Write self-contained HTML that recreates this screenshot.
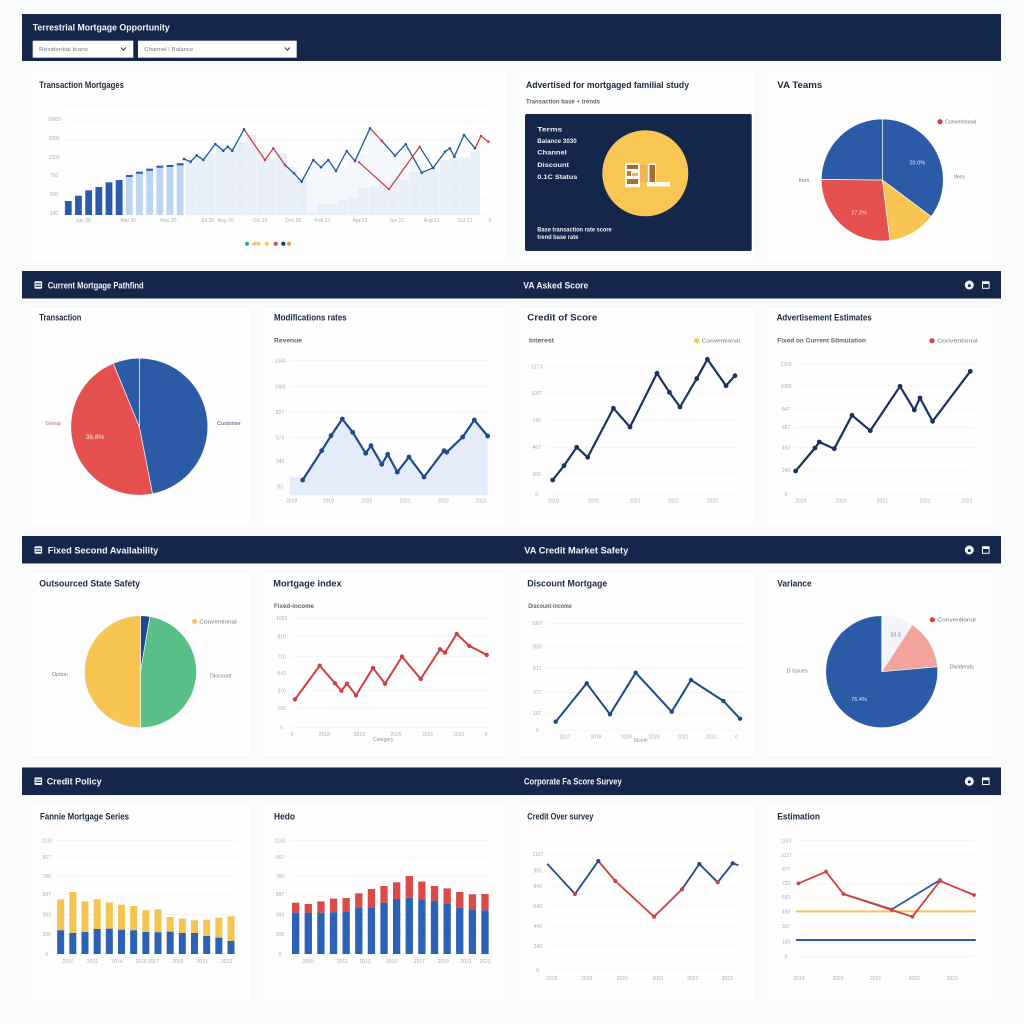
<!DOCTYPE html>
<html lang="en">
<head>
<meta charset="utf-8">
<title>Terrestrial Mortgage Opportunity</title>
<style>
html,body{margin:0;padding:0;background:#f9fafa;width:1024px;height:1024px;overflow:hidden}
svg{display:block;font-family:"Liberation Sans",sans-serif}
.band{fill:#14274a}
.card{fill:#fefefe;stroke:#f5f6f6;stroke-width:1}
.t{font-weight:700;font-size:9px;fill:#1b2942}
.h{font-weight:700;font-size:9.5px;fill:#f4f6fa}
.s{font-size:6px;fill:#5d6470;font-weight:700}
.m{font-size:5.5px;fill:#767c86}
.w{font-size:6.5px;fill:#eef1f6;font-weight:700}
</style>
</head>
<body>
<svg id="page" xmlns="http://www.w3.org/2000/svg" width="1024" height="1024" viewBox="0 0 1024 1024">
  <rect width="1024" height="1024" fill="#f9fafa"/>

  <rect class="band" x="22" y="14" width="979" height="47"/>
  <text class="h" x="32.7" y="30.5" textLength="137" lengthAdjust="spacingAndGlyphs">Terrestrial Mortgage Opportunity</text>
  <g>
    <rect x="32.7" y="40.7" width="100.6" height="17" fill="#fff"/>
    <text class="m" x="39" y="51" textLength="49" lengthAdjust="spacingAndGlyphs">Residential loans</text>
    <path d="M121 47.5l2.4 2.8 2.4-2.8" fill="none" stroke="#333c4c" stroke-width="1"/>
  </g>
  <g>
    <rect x="138" y="40.7" width="158.7" height="17" fill="#fff"/>
    <text class="m" x="144.3" y="51" textLength="49" lengthAdjust="spacingAndGlyphs">Channel / Balance</text>
    <path d="M285 47.5l2.4 2.8 2.4-2.8" fill="none" stroke="#333c4c" stroke-width="1"/>
  </g>

  <rect class="band" x="22" y="271" width="979" height="27.5"/>
  <rect class="band" x="22" y="536" width="979" height="27.5"/>
  <rect class="band" x="22" y="767.5" width="979" height="27.5"/>

  <text class="h" x="47.7" y="288.3" textLength="96" lengthAdjust="spacingAndGlyphs">Current Mortgage Pathfind</text>
  <text class="h" x="523.3" y="288.3" textLength="65" lengthAdjust="spacingAndGlyphs">VA Asked Score</text>
  <text class="h" x="47.7" y="553.3" textLength="110.6" lengthAdjust="spacingAndGlyphs">Fixed Second Availability</text>
  <text class="h" x="524.3" y="553.3" textLength="104" lengthAdjust="spacingAndGlyphs">VA Credit Market Safety</text>
  <text class="h" x="46.7" y="784.7" textLength="55" lengthAdjust="spacingAndGlyphs">Credit Policy</text>
  <text class="h" x="524" y="784.7" textLength="97.7" lengthAdjust="spacingAndGlyphs">Corporate Fa Score Survey</text>

  <g><rect x="34.5" y="281.2" width="7.6" height="7.6" rx="1" fill="#eef1f6"/><path d="M35.5 283.8h5.6M35.5 286.3h5.6" stroke="#14274a" stroke-width="1"/></g>
  <g><rect x="34.5" y="546.2" width="7.6" height="7.6" rx="1" fill="#eef1f6"/><path d="M35.5 548.8h5.6M35.5 551.3h5.6" stroke="#14274a" stroke-width="1"/></g>
  <g><rect x="34.5" y="777.4" width="7.6" height="7.6" rx="1" fill="#eef1f6"/><path d="M35.5 780h5.6M35.5 782.5h5.6" stroke="#14274a" stroke-width="1"/></g>

  <g><circle cx="969.3" cy="285" r="4.5" fill="#f4f6fa"/><circle cx="969.3" cy="285.6" r="1.5" fill="#14274a"/></g>
  <g><rect x="982" y="281.2" width="7.6" height="7.6" fill="#f4f6fa"/><rect x="983" y="284" width="5.6" height="3.8" fill="#14274a"/></g>
  <g><circle cx="969.3" cy="550" r="4.5" fill="#f4f6fa"/><circle cx="969.3" cy="550.6" r="1.5" fill="#14274a"/></g>
  <g><rect x="982" y="546.2" width="7.6" height="7.6" fill="#f4f6fa"/><rect x="983" y="549" width="5.6" height="3.8" fill="#14274a"/></g>
  <g><circle cx="969.3" cy="781.3" r="4.5" fill="#f4f6fa"/><circle cx="969.3" cy="781.9" r="1.5" fill="#14274a"/></g>
  <g><rect x="982" y="777.4" width="7.6" height="7.6" fill="#f4f6fa"/><rect x="983" y="780.2" width="5.6" height="3.8" fill="#14274a"/></g>

  <rect class="card" x="30" y="71.7" width="476.7" height="190"/>
  <rect class="card" x="518.3" y="71.7" width="236.7" height="190"/>
  <rect class="card" x="766.7" y="71.7" width="226.6" height="190"/>
  <rect class="card" x="30" y="306.7" width="221.7" height="218.3"/>
  <rect class="card" x="262.7" y="306.7" width="243.3" height="218.3"/>
  <rect class="card" x="518.3" y="306.7" width="236.7" height="218.3"/>
  <rect class="card" x="766.7" y="306.7" width="226.6" height="218.3"/>
  <rect class="card" x="30" y="572.7" width="221.7" height="184.6"/>
  <rect class="card" x="262.7" y="572.7" width="243.3" height="184.6"/>
  <rect class="card" x="518.3" y="572.7" width="236.7" height="184.6"/>
  <rect class="card" x="766.7" y="572.7" width="226.6" height="184.6"/>
  <rect class="card" x="30" y="804" width="221.7" height="196.7"/>
  <rect class="card" x="262.7" y="804" width="243.3" height="196.7"/>
  <rect class="card" x="518.3" y="804" width="236.7" height="196.7"/>
  <rect class="card" x="766.7" y="804" width="226.6" height="196.7"/>

  <text class="t" x="39.3" y="88" textLength="84.7" lengthAdjust="spacingAndGlyphs">Transaction Mortgages</text>
  <text class="t" x="526" y="88" textLength="163" lengthAdjust="spacingAndGlyphs">Advertised for mortgaged familial study</text>
  <text class="s" x="526" y="103.7" textLength="74" lengthAdjust="spacingAndGlyphs">Transaction base + trends</text>
  <text class="t" x="777.3" y="88" textLength="45" lengthAdjust="spacingAndGlyphs">VA Teams</text>

  <text class="t" x="39.3" y="320.7" textLength="42" lengthAdjust="spacingAndGlyphs">Transaction</text>
  <text class="t" x="274" y="320.7" textLength="72.7" lengthAdjust="spacingAndGlyphs">Modifications rates</text>
  <text class="t" x="527.3" y="320.7" textLength="70" lengthAdjust="spacingAndGlyphs">Credit of Score</text>
  <text class="t" x="776.7" y="320.7" textLength="95" lengthAdjust="spacingAndGlyphs">Advertisement Estimates</text>
  <text class="s" x="274" y="342.7" textLength="28" lengthAdjust="spacingAndGlyphs">Revenue</text>
  <text class="s" x="529" y="342.7" textLength="25" lengthAdjust="spacingAndGlyphs">Interest</text>
  <text class="s" x="777.3" y="342.7" textLength="88.7" lengthAdjust="spacingAndGlyphs">Fixed on Current Stimulation</text>

  <text class="t" x="39.3" y="586.3" textLength="100.7" lengthAdjust="spacingAndGlyphs">Outsourced State Safety</text>
  <text class="t" x="273.3" y="586.3" textLength="68.4" lengthAdjust="spacingAndGlyphs">Mortgage index</text>
  <text class="t" x="527.3" y="586.3" textLength="80" lengthAdjust="spacingAndGlyphs">Discount Mortgage</text>
  <text class="t" x="777.3" y="586.3" textLength="34.4" lengthAdjust="spacingAndGlyphs">Variance</text>
  <text class="s" x="274" y="608" textLength="40" lengthAdjust="spacingAndGlyphs">Fixed-income</text>
  <text class="s" x="528.3" y="608" textLength="43.4" lengthAdjust="spacingAndGlyphs">Discount-income</text>

  <text class="t" x="40" y="819.7" textLength="89" lengthAdjust="spacingAndGlyphs">Fannie Mortgage Series</text>
  <text class="t" x="274" y="819.7" textLength="21" lengthAdjust="spacingAndGlyphs">Hedo</text>
  <text class="t" x="527.3" y="819.7" textLength="66" lengthAdjust="spacingAndGlyphs">Credit Over survey</text>
  <text class="t" x="777.3" y="819.7" textLength="42.7" lengthAdjust="spacingAndGlyphs">Estimation</text>

  <rect x="525" y="114" width="226.7" height="137" rx="2" fill="#14274a"/>
  <text class="w" x="537.3" y="131.6" textLength="25" lengthAdjust="spacingAndGlyphs">Terms</text>
  <text class="w" x="537.3" y="143" textLength="39.4" lengthAdjust="spacingAndGlyphs">Balance 3030</text>
  <text class="w" x="537.3" y="154.6" textLength="29.4" lengthAdjust="spacingAndGlyphs">Channel</text>
  <text class="w" x="537.3" y="167" textLength="31.7" lengthAdjust="spacingAndGlyphs">Discount</text>
  <text class="w" x="537.3" y="179" textLength="40" lengthAdjust="spacingAndGlyphs">0.1C Status</text>
  <text class="w" x="537.3" y="231.6" textLength="74.4" lengthAdjust="spacingAndGlyphs">Base transaction rate score</text>
  <text class="w" x="537.3" y="239.2" textLength="41" lengthAdjust="spacingAndGlyphs">trend base rate</text>
  <circle cx="645.3" cy="173.3" r="43" fill="#f9c653"/>
  <g>
    <rect x="625" y="163.3" width="15" height="24" fill="#fdfbf4"/>
    <rect x="627" y="165" width="11" height="4" fill="#a8682c"/>
    <rect x="627" y="171" width="4" height="5" fill="#b97a3a"/>
    <rect x="632" y="173" width="6" height="3" fill="#e0b36a"/>
    <rect x="627" y="179" width="11" height="5" fill="#ab6f34"/>
    <rect x="640" y="165" width="7" height="17" fill="#efb255"/>
    <rect x="648" y="163.5" width="8" height="20" fill="#fdfbf4"/>
    <rect x="649.5" y="165" width="5.5" height="18" fill="#b0692e"/>
    <rect x="647" y="182" width="23" height="4.5" fill="#fdfbf4"/>
  </g>

  <g id="chart-layer"></g>
</svg>

<script>
/* ---------- chart data ---------- */
const trendBars=[140,193,247,280,327,350,400,433,463,493,500,517,550,590,620,700,680,730,800,630,570,620,480,380,30,110,110,150,170,270,280,330,350,350,430,450,450,550,570,570,630];
const trendBarsUpper=[0,0,0,0,0,0,0,0,0,0,0,0,0,0,0,0,0,0,0,0,0,0,0,0,450,390,420,330,410,350,570,420,270,320,150,0,0,0,0,0,0];
const trendDays=[119,125.7,131.7,138.3,150.3,158.3,162.7,167.3,179,200,208.3,220,229,236.7,248.3,256,263.3,271,281.7,290,305,316.7,330,340.7,356.7,368.3,380,385,389.3,399,410,416,423.3];
const trendValues=[560,533,597,550,710,643,683,643,857,550,667,500,417,333,550,477,550,440,640,540,867,743,593,707,423,473,633,667,583,800,667,790,733];
const trendFlags=[0,0,0,0,0,0,0,0,0,1,1,1,0,0,0,0,0,0,0,0,0,1,0,0,0,0,0,0,0,0,0,1,1];
const trendAltDays=[294,324,354.7,368.3];
const trendAltValues=[527,257,683,467];
const trendAltFlags=[1,1,1,0];
const trendGrid=[1100,930,750,580,390,170,0];
const trendTicks=[960,770,580,400,210,20];
const trendTickLabels=['10000','2000','1500','750','500','100'];
const trendXTicks=[18.3,63.3,103.3,142.3,160.7,195,228.3,257.7,295,331.7,366.7,400,425];
const trendXLabels=['Jan 20','Mar 20','May 20','Jul 20','Aug 20','Oct 20','Dec 20','Feb 21','Apr 21','Jun 21','Aug 21','Oct 21','0'];

const vaShare=[35.2,12.8,27.2,24.8];
const termsShare=[46.9,46.9,6.2];
const statusShare=[2.7,47.3,50];
const varianceShare=[9.2,14.4,76.4];

const areaDays=[12.7,31.7,41,52.3,62.7,75.7,81,91.7,97.7,107.3,119,134,154,156.7,172.7,184.3,197.7];
const areaValues=[150,443,593,760,627,417,493,307,407,230,380,180,443,427,580,750,590];
const areaGrid=[1343,1083,827,573,340,83,0];
const areaXTicks=[1.7,38.3,76.7,115,153.3,191];
const areaXLabels=['2018','2019','2020','2021','2022','2023'];

const scoreDays=[6,17.3,30,41,66.7,83.3,110.3,122.7,133.3,150,160.7,179.3,188.3];
const scoreValues=[140,283,467,367,857,670,1207,1017,870,1153,1347,1083,1183];
const scoreGrid=[1273,1007,740,467,200,0];
const scoreXTicks=[6.7,46.7,88.3,126.7,165.7];
const scoreXLabels=['2019','2020','2021','2022','2023'];

const estimateDays=[2.3,21.7,26,41,58.7,77,106.7,121,126.7,139.3,177];
const estimateValues=[230,460,520,453,787,633,1077,840,960,727,1227];
const estimateGrid=[1300,1080,847,667,463,240,0];
const estimateXTicks=[7.4,47.7,89,131.7,173.4];
const estimateXLabels=['2019','2020','2021','2022','2023'];

const indexDays=[4.3,29,44.3,50.7,56.3,65.3,82.3,94.3,111.3,130,149.3,154.3,166,178.7,196];
const indexValues=[283,620,443,370,440,323,597,440,710,487,783,750,937,817,727];
const indexGrid=[1093,910,710,543,370,193,0];
const indexXTicks=[1.3,33.6,68.6,105.3,137,168,195.3];
const indexXLabels=['0','2018','2019','2020','2021','2022','0'];

const discountDays=[9,40,63.3,89,125,144.3,176.7,193.3];
const discountValues=[83,467,157,573,183,500,290,113];
const discountGrid=[1067,833,617,377,167,0];
const discountXTicks=[18.3,49.3,79.3,107.3,136,164.6,190];
const discountXLabels=['2017','2018','2019','2020','2021','2022','0'];

const yellowBase=[237,210,220,250,253,243,237,220,217,223,210,210,180,163,130];
const yellowTop=[310,410,307,297,263,250,243,217,230,147,143,127,163,200,247];
const yellowGrid=[1133,967,780,597,393,200,0];
const yellowXTicks=[0,2,4,6,7,9,11,13];
const yellowXLabels=['2010','2012','2014','2016','2017','2019','2021','2023'];

const redBase=[413,413,413,417,420,460,467,513,550,563,547,533,503,463,440,437];
const redTop=[100,87,113,137,140,147,183,167,167,217,177,147,153,157,157,163];
const redGrid=[1133,967,780,597,393,200,0];
const redXTicks=[1,3.7,5.5,7.6,9.8,11.7,13.5,15];
const redXLabels=['2009','2011','2013','2015','2017','2019','2021','2023'];

const surveyDays=[2.7,30,53.3,70.3,109,137,154.3,172.7,187.7,192.7];
const surveyValues=[1057,760,1090,890,533,807,1060,877,1067,1050];
const surveyFlags=[0,0,0,1,1,1,0,0,0,0];
const surveyAlerts=[0,1,0,1,1,1,0,1,0,0];
const surveyGrid=[1157,993,840,640,440,240,0];
const surveyXTicks=[6.7,41.7,77.3,113,147.7,182.3];
const surveyXLabels=['2018','2019','2020','2021','2022','2023'];

const estRedDays=[1.7,29.3,46.7,95,115.7,143.3,177.3];
const estRedValues=[733,850,627,467,400,757,617];
const estBlueDays=[46.7,95,143.3];
const estBlueValues=[627,473,767];
const estFlatDays=[0,178.3];
const estYellowValues=[453,453];
const estNavyValues=[167,167];
const estGrid=[1160,1017,877,733,593,450,307,150,0];
const estXTicks=[2.3,41.3,79,117.6,155.6];
const estXLabels=['2019','2020','2021','2022','2023'];

/* ---------- helpers ---------- */
const NS='http://www.w3.org/2000/svg';
const layer=document.getElementById('chart-layer');
function make(tag,attrs,parent,name){
  const el=document.createElementNS(NS,tag);
  for(const k in attrs){el.setAttribute(k,attrs[k]);}
  
  
  parent.appendChild(el);
  return el;
}
function scale(d0,d1,r0,r1){return v=>r0+(v-d0)/(d1-d0)*(r1-r0);}
function frame(f){
  return {left:f.left,right:f.right,top:f.top,bottom:f.bottom,
    x:scale(0,f.right-f.left,f.left,f.right),
    y:scale(0,f.yMax,f.bottom,f.top)};
}
function label(parent,x,y,str,anchor,name,size,fill){
  const el=make('text',{x:x,y:y,'text-anchor':anchor,'font-size':size||5,fill:fill||'#a9adb3'},parent,name);
  el.textContent=str;
  return el;
}
function axes(g,fr,grid,yTicks,labelX,xTicks,xLabels,xLabelY,yLabels){
  grid.forEach(v=>{
    make('line',{x1:fr.left,x2:fr.right,y1:fr.y(v),y2:fr.y(v),stroke:'#f1f2f4','stroke-width':0.8},g,'grid-line');
  });
  yTicks.forEach((v,i)=>{
    label(g,labelX,fr.y(v)+1.8,yLabels?yLabels[i]:String(Math.round(v)),'middle','y-tick-label');
  });
  xTicks.forEach((t,i)=>{
    label(g,fr.x(t),xLabelY,xLabels[i],'middle','x-tick-label');
  });
}
function series(g,fr,days,vals,color,width,name,opt){
  opt=opt||{};
  const pts=days.map((d,i)=>[fr.x(d),fr.y(vals[i])]);
  if(opt.flags){
    for(let i=1;i<pts.length;i++){
      make('line',{x1:pts[i-1][0],y1:pts[i-1][1],x2:pts[i][0],y2:pts[i][1],
        stroke:opt.flags[i]?opt.flagColor:color,'stroke-width':width,'stroke-linecap':'round'},g,name+'-segment');
    }
  }else{
    make('polyline',{points:pts.map(p=>p.join(',')).join(' '),fill:'none',stroke:color,
      'stroke-width':width,'stroke-linejoin':'round','stroke-linecap':'round'},g,name);
  }
  if(opt.r){
    pts.forEach((p,i)=>{
      if(opt.skipEnds&&(i===0||i===pts.length-1))return;
      const alerted=opt.alerts?opt.alerts[i]:(opt.flags?opt.flags[i]:0);
      make('circle',{cx:p[0],cy:p[1],r:opt.r,fill:alerted?opt.flagColor:color},g,name+'-point');
    });
  }
}
function pie(g,cx,cy,r,vals,colors,name){
  const total=vals.reduce((a,b)=>a+b,0);
  let acc=0;
  vals.forEach((v,i)=>{
    const a0=acc/total*2*Math.PI;
    acc+=v;
    const a1=acc/total*2*Math.PI;
    const large=(a1-a0)>Math.PI?1:0;
    const d='M'+cx+' '+cy+'L'+(cx+r*Math.sin(a0))+' '+(cy-r*Math.cos(a0))+
      'A'+r+' '+r+' 0 '+large+' 1 '+(cx+r*Math.sin(a1))+' '+(cy-r*Math.cos(a1))+'Z';
    make('path',{d:d,fill:colors[i],stroke:'#f4f6fb','stroke-width':0.7,'stroke-linejoin':'round'},g,name+'-slice');
  });
}
function stacked(g,fr,base,top,firstCenter,lastCenter,width,baseColor,topColor,name){
  const cx=scale(0,base.length-1,firstCenter,lastCenter);
  base.forEach((v,i)=>{
    const yb=fr.y(v),yt=fr.y(v+top[i]);
    make('rect',{x:cx(i)-width/2,y:yt,width:width,height:yb-yt,fill:topColor},g,name+'-upper');
    make('rect',{x:cx(i)-width/2,y:yb,width:width,height:fr.bottom-yb,fill:baseColor},g,name+'-lower');
  });
}
function group(name){return make('g',{},layer,name);}
function legend(g,cx,cy,color,x,w,str,name){
  make('circle',{cx:cx,cy:cy,r:2.6,fill:color},g,name+'-dot');
  const t=label(g,x,cy+2,str,'start',name+'-label',5.5,'#6f7580');
  t.setAttribute('textLength',w);
  t.setAttribute('lengthAdjust','spacingAndGlyphs');
}

const NAVY='#1a3263',BLUE='#1c4a8d',RED='#d43f3f',PIEBLUE='#2b5aa6',PIERED='#e4504d',YEL='#f8c553',GRN='#58c086';

/* ---------- main trend chart ---------- */
(function(){
  const g=group('mortgage-trend-chart');
  const fr=frame({left:65,right:490,top:105,bottom:215,yMax:1100});
  axes(g,fr,trendGrid,trendTicks,54,trendXTicks,trendXLabels,222,trendTickLabels);
  const cx=scale(0,40,68.3,475.1);
  trendBars.forEach((v,i)=>{
    const w=i<12?6.8:9.8;
    const yt=fr.y(v);
    if(trendBarsUpper[i]>0){
      const yu=fr.y(v+trendBarsUpper[i]);
      make('rect',{x:cx(i)-w/2,y:yu,width:w,height:yt-yu,fill:'#f4f7fc'},g,'trend-bar-upper');
    }
    make('rect',{x:cx(i)-w/2,y:yt,width:w,height:fr.bottom-yt,fill:i<6?'#2a5cab':(i<12?'#bdd5f1':'#e8eff9')},g,'trend-bar');
    if(i>=6&&i<12){
      make('rect',{x:cx(i)-w/2,y:yt,width:w,height:2,fill:'#2a5cab'},g,'trend-bar-cap');
    }
  });
  series(g,fr,trendDays,trendValues,'#1f5a9c',1.3,'trend-line',{flags:trendFlags,flagColor:RED,r:1.3});
  series(g,fr,trendAltDays,trendAltValues,'#1f5a9c',1.3,'trend-alt-line',{flags:trendAltFlags,flagColor:RED,r:1.2});
  const dots=['#1fa870','#f8c553','#f8c553','#f8c553','#d94040','#1a3263','#f0983c'];
  const dotX=scale(0,1,247,289);
  [0,0.174,0.27,0.47,0.683,0.865,1].forEach((p,i)=>{
    make('circle',{cx:dotX(p),cy:243.7,r:2,fill:dots[i]},g,'legend-dot');
  });
})();

/* ---------- pies ---------- */
(function(){
  let g=group('va-share-pie');
  pie(g,882.3,180,61,vaShare,[PIEBLUE,YEL,PIERED,PIEBLUE],'va-share');
  label(g,917.3,164.7,'20.0%','middle','va-share-value',5.5,'#e9eef8');
  label(g,859,214.7,'27.2%','middle','va-share-value',5.5,'#fbe5e4');
  label(g,804,182,'Item','middle','va-share-label',5.5,'#767c86');
  label(g,959.3,178.7,'Item','middle','va-share-label',5.5,'#767c86');
  legend(g,940,121.7,RED,945,31,'Conventional','va-share-legend');

  g=group('terms-pie');
  pie(g,139.3,426.7,68.5,termsShare,[PIEBLUE,PIERED,PIEBLUE],'terms');
  label(g,95,439.2,'36.8%','middle','terms-value',6.5,'#fbe5e4');
  label(g,53,425,'Group','middle','terms-label',5.5,'#9b6f6c');
  label(g,229,425,'Customer','middle','terms-label',5.5,'#4a5570');

  g=group('status-pie');
  pie(g,140.5,671.7,56,statusShare,[BLUE,GRN,YEL],'status');
  legend(g,194.7,621.3,YEL,199.3,37.4,'Conventional','status-legend');
  label(g,60,676,'Option','middle','status-label',5.5,'#767c86');
  label(g,220.7,677.7,'Discount','middle','status-label',5.5,'#767c86');

  g=group('variance-pie');
  pie(g,881.7,671.7,56,varianceShare,['#f3f4f9','#f2a49c',PIEBLUE],'variance');
  label(g,895.7,636.3,'33.5','middle','variance-value',5.5,'#767c86');
  label(g,859,701,'76.4%','middle','variance-value',5.5,'#dfe7f5');
  label(g,797.3,672.7,'D Issues','middle','variance-label',5.5,'#767c86');
  label(g,961.7,668.7,'Dividends','middle','variance-label',5.5,'#767c86');
  legend(g,932.3,619.7,RED,937.3,38.4,'Conventional','variance-legend');
})();

/* ---------- area line ---------- */
(function(){
  const g=group('area-line-chart');
  const fr=frame({left:290,right:488.3,top:360.7,bottom:495,yMax:1343});
  axes(g,fr,areaGrid,areaGrid.slice(0,6),280,areaXTicks,areaXLabels,502.5);
  const startDay=0,startValue=177;
  const top=[[fr.x(startDay),fr.y(startValue)],[fr.x(areaDays[0]),fr.y(startValue)]]
    .concat(areaDays.slice(1).map((d,i)=>[fr.x(d),fr.y(areaValues[i+1])]));
  const poly=top.concat([[top[top.length-1][0],fr.bottom],[fr.left,fr.bottom]]);
  make('polygon',{points:poly.map(p=>p.join(',')).join(' '),fill:'#e4ecf9'},g,'area-fill');
  series(g,fr,areaDays,areaValues,BLUE,2.2,'area-line',{r:2.4});
})();

/* ---------- line charts ---------- */
(function(){
  let g=group('credit-score-chart');
  let fr=frame({left:546.7,right:740,top:366.7,bottom:494,yMax:1273});
  axes(g,fr,scoreGrid,scoreGrid,536.7,scoreXTicks,scoreXLabels,502.5);
  series(g,fr,scoreDays,scoreValues,NAVY,2.2,'credit-score-line',{r:2.4});
  legend(g,696.7,340.7,YEL,701.7,38.3,'Conventional','credit-score-legend');

  g=group('advanced-estimates-chart');
  fr=frame({left:793.3,right:975,top:364,bottom:494,yMax:1300});
  axes(g,fr,estimateGrid,estimateGrid,786,estimateXTicks,estimateXLabels,502.5);
  series(g,fr,estimateDays,estimateValues,NAVY,2.2,'advanced-estimates-line',{r:2.4});
  legend(g,932,340.7,RED,937.3,40.4,'Conventional','advanced-estimates-legend');

  g=group('mortgage-index-chart');
  fr=frame({left:290.7,right:488.3,top:618.3,bottom:727.7,yMax:1093});
  axes(g,fr,indexGrid,indexGrid,281.7,indexXTicks,indexXLabels,735.8);
  label(g,383.3,741,'Category','middle','x-axis-title',5,'#8f949b');
  series(g,fr,indexDays,indexValues,'#d23f42',2,'mortgage-index-line',{r:2.2});

  g=group('discount-mortgage-chart');
  fr=frame({left:546.7,right:743.3,top:623.3,bottom:730,yMax:1067});
  axes(g,fr,discountGrid,discountGrid,537.3,discountXTicks,discountXLabels,738.5);
  label(g,640.7,742,'Month','middle','x-axis-title',5,'#8f949b');
  series(g,fr,discountDays,discountValues,BLUE,2,'discount-mortgage-line',{r:2.2});

  g=group('credit-survey-chart');
  fr=frame({left:545,right:740,top:854.3,bottom:970,yMax:1157});
  axes(g,fr,surveyGrid,surveyGrid,537.7,surveyXTicks,surveyXLabels,980);
  series(g,fr,surveyDays,surveyValues,BLUE,1.8,'credit-survey-line',{flags:surveyFlags,flagColor:RED,alerts:surveyAlerts,r:2.1,skipEnds:true});

  g=group('estimation-chart');
  fr=frame({left:796.7,right:975,top:840.7,bottom:956.7,yMax:1160});
  axes(g,fr,estGrid,estGrid,786,estXTicks,estXLabels,980);
  series(g,fr,estFlatDays,estYellowValues,YEL,2,'estimation-yellow-line');
  series(g,fr,estFlatDays,estNavyValues,'#2b5aa6',2,'estimation-blue-flat-line');
  series(g,fr,estBlueDays,estBlueValues,'#2b5aa6',1.8,'estimation-blue-line',{r:1.8});
  series(g,fr,estRedDays,estRedValues,RED,1.8,'estimation-red-line',{r:1.9});
})();

/* ---------- stacked bars ---------- */
(function(){
  let g=group('stacked-yellow-chart');
  let fr=frame({left:56,right:236.7,top:840.7,bottom:954,yMax:1133});
  let barX=scale(0,14,60.67,231);
  axes(g,fr,yellowGrid,yellowGrid,46.7,[],[],963);
  yellowXTicks.forEach((c,i)=>label(g,barX(c)+7.6,963,yellowXLabels[i],'middle','x-tick-label'));
  stacked(g,fr,yellowBase,yellowTop,60.67,231,7,'#2b62b5','#f6c453','stacked-yellow');

  g=group('stacked-red-chart');
  fr=frame({left:289.3,right:489.3,top:840.7,bottom:954,yMax:1133});
  barX=scale(0,15,295.67,485);
  axes(g,fr,redGrid,redGrid,280,[],[],963);
  redXTicks.forEach((c,i)=>label(g,barX(c),963,redXLabels[i],'middle','x-tick-label'));
  stacked(g,fr,redBase,redTop,295.67,485,7.3,'#2b62b5','#d94a48','stacked-red');
})();
</script>
</body>
</html>
